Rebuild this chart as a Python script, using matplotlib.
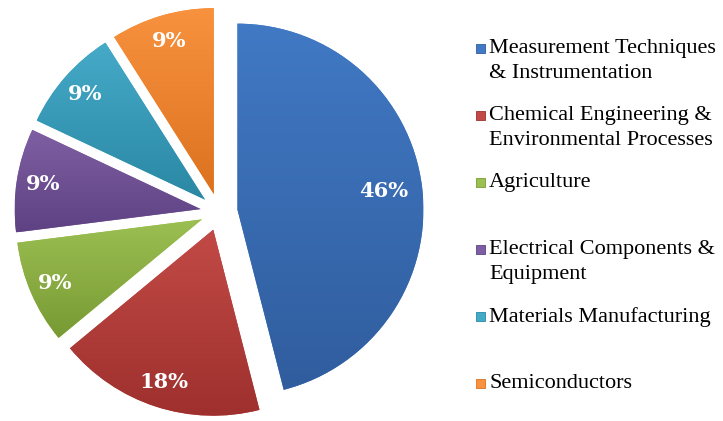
import numpy as np
import matplotlib.pyplot as plt
from matplotlib.colors import LinearSegmentedColormap

# data
labels = ["Measurement Techniques\n& Instrumentation",
          "Chemical Engineering &\nEnvironmental Processes",
          "Agriculture",
          "Electrical Components &\nEquipment",
          "Materials Manufacturing",
          "Semiconductors"]
shares = [46, 18, 9, 9, 9, 9]
top_cols = ["#4179c4", "#c24a46", "#9cbf52", "#7f5fa3", "#45aac8", "#f8923e"]
bot_cols = ["#305d9e", "#9e302d", "#789a34", "#5e4283", "#2a88a4", "#dc7220"]

W, H = 723, 421
fig = plt.figure(figsize=(W/100, H/100), dpi=100)
ax = fig.add_axes([0, 0, 1, 1])

# pie centre and radius in pixels
cx, cy, r = 219, 209, 186

wedges, texts, autos = ax.pie(shares, startangle=90, counterclock=False,
                              explode=[0.1]*len(shares), radius=1,
                              autopct=lambda p: f"{p:.0f}%", pctdistance=0.86,
                              colors=top_cols,
                              textprops=dict(color="white", fontsize=15, fontweight="bold",
                                             family="DejaVu Serif"))

# pull the big label a bit inwards
x0, y0 = wedges[0].center
px, py = autos[0].get_position()
autos[0].set_position((x0 + (px-x0)*0.79/0.86, y0 + (py-y0)*0.79/0.86))

# vertical shading in each slice
for w, c1, c2 in zip(wedges, top_cols, bot_cols):
    w.set_edgecolor("none")
    cmap = LinearSegmentedColormap.from_list("g", [c2, c1])
    bb = w.get_path().get_extents(w.get_transform() + ax.transData.inverted())
    grad = np.linspace(0, 1, 100).reshape(-1, 1)
    im = ax.imshow(grad, extent=[bb.x0, bb.x1, bb.y0, bb.y1], origin="lower",
                   cmap=cmap, aspect="auto", zorder=w.get_zorder(), interpolation="bicubic")
    im.set_clip_path(w)
for t in autos:
    t.set_zorder(5)

ax.set_xlim(-cx/r, (W-cx)/r)
ax.set_ylim(-cy/r, (H-cy)/r)
ax.set_aspect("auto")
ax.axis("off")

# legend drawn by hand, one entry every 67 px
for i, (lab, c1, c2) in enumerate(zip(labels, top_cols, bot_cols)):
    ytop = 49 + 67*i
    fig.patches.append(plt.Rectangle((476/W, 1-(ytop+4)/H), 9/W, 9/H,
                                     transform=fig.transFigure, facecolor=c1,
                                     edgecolor=c2, lw=0.6))
    fig.text(489/W, 1-(ytop-10)/H, lab, ha="left", va="top", fontsize=16,
             family="Liberation Serif", color="black", linespacing=1.45)

fig.savefig("out.png", dpi=100)
